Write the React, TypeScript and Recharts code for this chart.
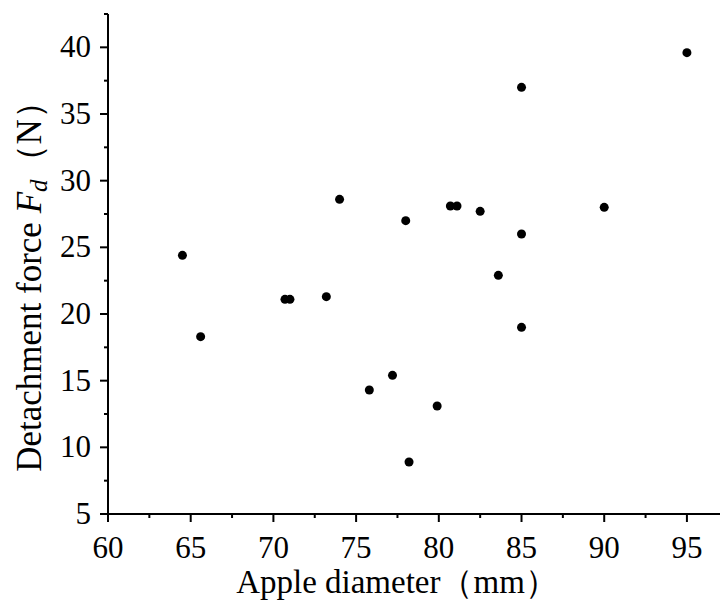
import { ScatterChart, Scatter, XAxis, YAxis } from "recharts";

const diameters = [64.5, 65.6, 70.7, 71.0, 73.2, 74.0, 75.8, 77.2, 78.0, 78.2, 79.9, 80.7, 81.1, 82.5, 83.6, 85.0, 85.0, 85.0, 90.0, 95.0];
const forces = [24.4, 18.3, 21.1, 21.1, 21.3, 28.6, 14.3, 15.4, 27.0, 8.9, 13.1, 28.1, 28.1, 27.7, 22.9, 37.0, 26.0, 19.0, 28.0, 39.6];

const xMajorTicks = [60, 65, 70, 75, 80, 85, 90, 95];
const xMinorTicks = [62.5, 67.5, 72.5, 77.5, 82.5, 87.5, 92.5];
const yMajorTicks = [5, 10, 15, 20, 25, 30, 35, 40];
const yMinorTicks = [7.5, 12.5, 17.5, 22.5, 27.5, 32.5, 37.5, 42.5];

const xTitle = "Apple diameter（mm）";
const yTitle = "Detachment force ";

const data = diameters.map((d, i) => ({ x: d, y: forces[i] }));
const FONT = "'Liberation Serif', 'Times New Roman', serif";

function XTick(props: any) {
  const { x, y, payload } = props;
  const major = xMajorTicks.includes(payload.value);
  return (
    <g>
      <line x1={x} y1={y} x2={x} y2={y + (major ? 8 : 4)} stroke="#000" strokeWidth={2} />
      {major && (
        <text x={x} y={y + 44} textAnchor="middle" fontSize={31} fontFamily={FONT} fill="#000">
          {payload.value}
        </text>
      )}
    </g>
  );
}

function YTick(props: any) {
  const { x, y, payload } = props;
  const major = yMajorTicks.includes(payload.value);
  return (
    <g>
      <line x1={x} y1={y} x2={x - (major ? 8 : 4)} y2={y} stroke="#000" strokeWidth={2} />
      {major && (
        <text x={x - 17} y={y + 10} textAnchor="end" fontSize={31} fontFamily={FONT} fill="#000">
          {payload.value}
        </text>
      )}
    </g>
  );
}

function XTitle(props: any) {
  const { viewBox } = props;
  const cx = viewBox.x + viewBox.width / 2 - 17;
  return (
    <text x={cx} y={viewBox.y + 79} textAnchor="middle" fontSize={33} fontFamily={FONT} fill="#000">
      {xTitle}
    </text>
  );
}

function YTitle(props: any) {
  const { viewBox } = props;
  const cx = 41;
  const cy = viewBox.y + viewBox.height / 2 + 14;
  return (
    <text
      x={cx}
      y={cy}
      textAnchor="middle"
      fontSize={35}
      fontFamily={FONT}
      fill="#000"
      transform={`rotate(-90, ${cx}, ${cy})`}
    >
      {yTitle}
      <tspan fontStyle="italic">F</tspan>
      <tspan fontStyle="italic" fontSize={25} dy={6}>d</tspan>
      <tspan dy={-6}>（N）</tspan>
    </text>
  );
}

export default function App() {
  return (
    <div style={{ position: "absolute", left: 0, top: 0, background: "#fff" }}>
      <ScatterChart width={722} height={601} margin={{ top: 14, right: 2, bottom: 0, left: 0 }}>
        <XAxis
          type="number"
          dataKey="x"
          domain={[60, 97]}
          ticks={[...xMajorTicks, ...xMinorTicks].sort((a, b) => a - b)}
          interval={0}
          height={87}
          tickSize={0}
          tickMargin={0}
          tickLine={false}
          axisLine={{ stroke: "#000", strokeWidth: 2 }}
          tick={XTick}
          label={<XTitle />}
          allowDataOverflow
        />
        <YAxis
          type="number"
          dataKey="y"
          domain={[5, 42.5]}
          ticks={[...yMajorTicks, ...yMinorTicks].sort((a, b) => a - b)}
          interval={0}
          width={108}
          tickSize={0}
          tickMargin={0}
          tickLine={false}
          axisLine={{ stroke: "#000", strokeWidth: 2 }}
          tick={YTick}
          label={<YTitle />}
          allowDataOverflow
        />
        <Scatter data={data} fill="#000" isAnimationActive={false} shape={(p: any) => <circle cx={p.cx} cy={p.cy} r={4.5} fill="#000" />} />
      </ScatterChart>
    </div>
  );
}
